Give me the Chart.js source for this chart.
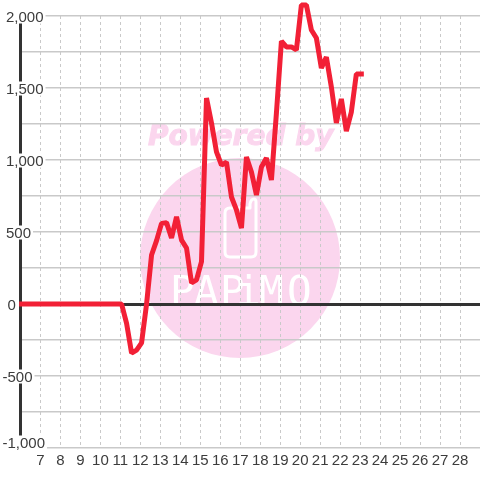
<!DOCTYPE html>
<html>
<head>
<meta charset="utf-8">
<style>
  html, body { margin: 0; padding: 0; background: #fff; }
  canvas { display: block; }
</style>
<script src="https://cdn.jsdelivr.net/npm/chart.js@4"></script>
</head>
<body>
<canvas id="chart" width="480" height="480"></canvas>
<script>
const xHours = [
    6.06, 6.31, 6.56, 6.81, 7.06, 7.31, 7.56, 7.81, 8.06, 8.31, 8.56, 8.81,
    9.06, 9.31, 9.56, 9.81, 10.06, 10.31, 10.56, 10.81, 11.06, 11.31, 11.56, 11.81,
    12.06, 12.31, 12.56, 12.81, 13.06, 13.31, 13.56, 13.81, 14.06, 14.31, 14.56, 14.81,
    15.06, 15.31, 15.56, 15.81, 16.06, 16.31, 16.56, 16.81, 17.06, 17.31, 17.56, 17.81,
    18.06, 18.31, 18.56, 18.81, 19.06, 19.31, 19.56, 19.81, 20.06, 20.31, 20.56, 20.81,
    21.06, 21.31, 21.56, 21.81, 22.06, 22.31, 22.56, 22.81, 23.06,
];
const sales = [
    0, 0, 0, 0, 0, 0, 0, 0, 0, 0, 0, 0,
    0, 0, 0, 0, 0, 0, 0, 0, 0, -135, -340, -320,
    -270, 0, 340, 440, 560, 565, 458, 606, 444, 389, 146, 167,
    294, 1430, 1257, 1056, 965, 986, 743, 653, 528, 1021, 917, 757,
    951, 1014, 861, 1326, 1826, 1785, 1785, 1764, 2076, 2076, 1903, 1847,
    1639, 1715, 1507, 1257, 1424, 1201, 1333, 1597, 1597,
];
const xTickValues = [7, 8, 9, 10, 11, 12, 13, 14, 15, 16, 17, 18, 19, 20, 21, 22, 23, 24, 25, 26, 27, 28];
const xTickLabels = ["7", "8", "9", "10", "11", "12", "13", "14", "15", "16", "17", "18", "19", "20", "21", "22", "23", "24", "25", "26", "27", "28"];
const yTickValues = [2000, 1500, 1000, 500, 0, -500, -1000];
const yTickLabels = ["2,000", "1,500", "1,000", "500", "0", "-500", "-1,000"];

const gridColor = "#c9c9c9";
const axisColor = "#333333";
const textColor = "#3c3c3c";
const pink = "#fbd6ee";
const labelFont = "15px 'Liberation Sans'";

// the faded logo behind the plot
const watermark = {
    id: "watermark",
    beforeDraw(chart) {
        let ctx = chart.ctx;
        ctx.save();
        ctx.fillStyle = "#fff";
        ctx.fillRect(0, 0, 480, 480);

        ctx.fillStyle = pink;
        ctx.strokeStyle = pink;
        ctx.lineWidth = 1;
        ctx.font = "italic bold 28px 'DejaVu Sans'";
        ctx.textAlign = "left";
        ctx.textBaseline = "alphabetic";
        ctx.fillText("Powered by", 148, 145);
        ctx.strokeText("Powered by", 148, 145);

        ctx.beginPath();
        ctx.arc(240, 258, 100, 0, Math.PI * 2);
        ctx.fill();

        ctx.strokeStyle = "#fff";
        ctx.lineWidth = 3;
        ctx.lineJoin = "round";
        ctx.beginPath();
        ctx.moveTo(230, 208);
        ctx.lineTo(250, 208);
        ctx.lineTo(250, 204);
        ctx.quadraticCurveTo(251, 199, 254, 199);
        ctx.quadraticCurveTo(256, 199, 256, 202);
        ctx.lineTo(256, 252);
        ctx.quadraticCurveTo(256, 257, 251, 257);
        ctx.lineTo(230, 257);
        ctx.quadraticCurveTo(225, 257, 225, 252);
        ctx.lineTo(225, 213);
        ctx.quadraticCurveTo(225, 208, 230, 208);
        ctx.stroke();

        ctx.fillStyle = "#fff";
        ctx.font = "41px 'DejaVu Sans Mono'";
        ctx.textBaseline = "alphabetic";
        let letters = [["P", 170], ["A", 194], ["P", 220], ["i", 236], ["M", 259], ["O", 287]];
        letters.forEach(([ch, x]) => ctx.fillText(ch, x, 305));
        ctx.restore();
    },
};

// y labels sit over the axis line with a white box behind them
const yLabels = {
    id: "yLabels",
    beforeDatasetsDraw(chart) {
        let ctx = chart.ctx;
        let y = chart.scales.y;
        ctx.save();
        ctx.font = labelFont;
        ctx.textAlign = "left";
        ctx.textBaseline = "middle";
        yTickValues.forEach((value, i) => {
            let label = yTickLabels[i];
            let top = y.getPixelForValue(value);
            if (value === -1000) top -= 6;
            let left = value < 0 ? 2.5 : (value === 0 ? 7.5 : 6);
            let width = ctx.measureText(label).width;
            ctx.fillStyle = "#fff";
            if (value !== 0) ctx.fillRect(0, top - 6.5, left + width + 2, 14);
            ctx.fillStyle = textColor;
            ctx.fillText(label, left, top + 1.5);
        });
        ctx.restore();
    },
};

new Chart(document.getElementById("chart"), {
    type: "line",
    data: {
        datasets: [
            {
                data: xHours.map((hour, i) => ({ x: hour, y: sales[i] })),
                borderColor: "#f22036",
                borderWidth: 5,
                borderCapStyle: "square",
                borderJoinStyle: "bevel",
                pointRadius: 0,
                tension: 0,
                fill: false,
                clip: 20,
            },
        ],
    },
    options: {
        responsive: false,
        animation: false,
        layout: { padding: { top: 16, left: 0, right: 0, bottom: 0 } },
        plugins: { legend: { display: false }, tooltip: { enabled: false } },
        scales: {
            x: {
                type: "linear",
                min: 6,
                max: 29,
                afterFit(scale) {
                    scale.height = 32;
                    scale.paddingLeft = 0;
                    scale.paddingRight = 0;
                },
                afterBuildTicks(scale) {
                    scale.ticks = [6].concat(xTickValues, [29]).map((value) => ({ value }));
                },
                ticks: {
                    autoSkip: false,
                    maxRotation: 0,
                    padding: 4,
                    color: textColor,
                    font: { family: "'Liberation Sans'", size: 15 },
                    callback(value) {
                        let i = xTickValues.indexOf(value);
                        return i < 0 ? "" : xTickLabels[i];
                    },
                },
                grid: {
                    drawTicks: false,
                    color(ctx) {
                        return xTickValues.includes(ctx.tick.value) ? gridColor : "rgba(0,0,0,0)";
                    },
                },
                border: { display: false, dash: [3, 3] },
            },
            y: {
                min: -1000,
                max: 2000,
                afterFit(scale) {
                    scale.width = 20.5;
                },
                ticks: { display: false, stepSize: 250 },
                grid: {
                    drawTicks: false,
                    color(ctx) {
                        return ctx.tick.value === 0 ? axisColor : gridColor;
                    },
                    lineWidth(ctx) {
                        return ctx.tick.value === 0 ? 3 : 1.5;
                    },
                },
                border: { color: axisColor, width: 3 },
            },
        },
    },
    plugins: [watermark, yLabels],
});
</script>
</body>
</html>
